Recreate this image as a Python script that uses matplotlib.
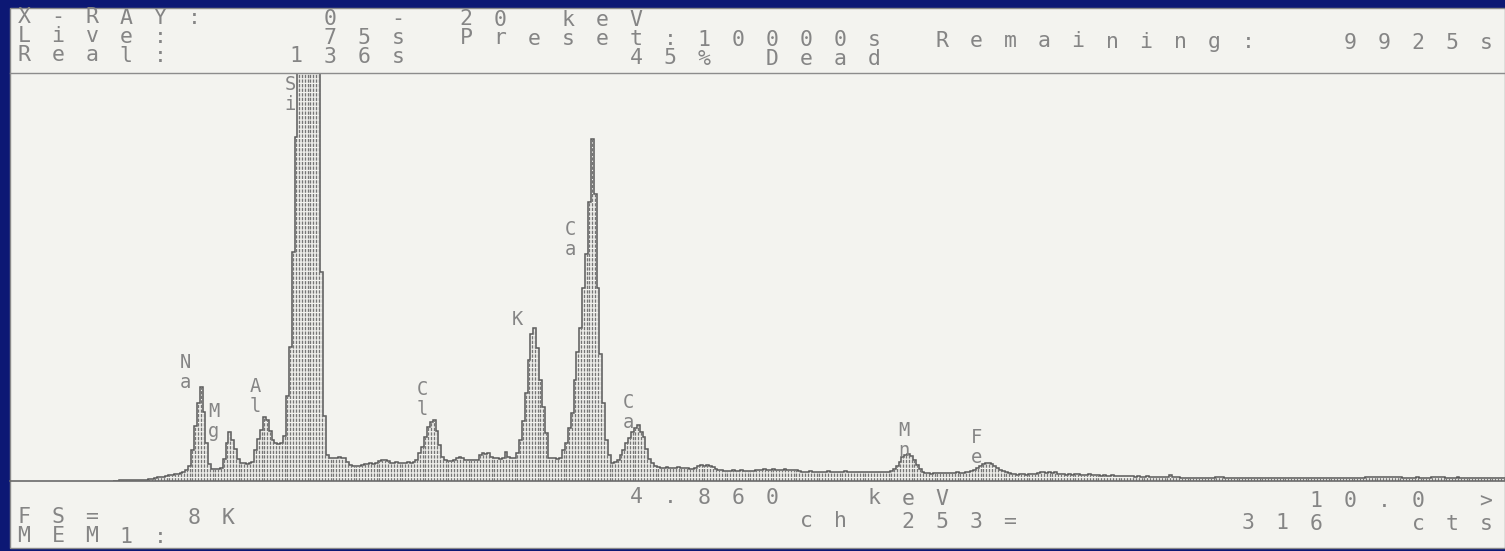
import matplotlib.pyplot as plt
import numpy as np
from matplotlib.patches import Rectangle
from matplotlib.lines import Line2D
from matplotlib.transforms import offset_copy

W, H = 1505, 551

# counts per 20 eV channel, first channel at 0.40 keV
e_start = 0.40
e_step = 0.02
counts = [
    0, 0, 20, 20, 20, 20, 20, 20, 20, 20,
    20, 20, 40, 40, 60, 80, 80, 80, 100, 120,
    120, 140, 140, 160, 180, 220, 300, 620, 1100, 1560,
    1880, 1380, 760, 340, 240, 240, 240, 260, 440, 760,
    980, 820, 640, 440, 360, 360, 340, 360, 380, 620,
    840, 1020, 1280, 1220, 1000, 820, 760, 740, 760, 900,
    1700, 2700, 4600, 6900, 9800, 14000, 17500, 19000, 17000, 13500,
    10500, 8400, 4200, 1300, 520, 470, 470, 470, 480, 470,
    460, 380, 320, 300, 300, 300, 320, 340, 340, 360,
    350, 370, 400, 420, 420, 400, 370, 370, 380, 360,
    370, 370, 380, 370, 380, 420, 560, 680, 880, 1080,
    1180, 1220, 1000, 720, 480, 420, 400, 400, 420, 460,
    480, 460, 420, 420, 420, 420, 430, 520, 560, 540,
    560, 480, 460, 460, 450, 460, 580, 480, 460, 460,
    560, 820, 1200, 1760, 2420, 2960, 3080, 2680, 2020, 1480,
    960, 460, 460, 460, 440, 460, 620, 760, 1060, 1360,
    2020, 2600, 3080, 3880, 4560, 5600, 6860, 5760, 3880, 2560,
    1560, 820, 520, 360, 380, 420, 520, 620, 760, 860,
    980, 1060, 1120, 980, 880, 640, 440, 360, 300, 280,
    260, 260, 280, 260, 260, 260, 280, 260, 260, 260,
    240, 240, 260, 300, 320, 300, 320, 300, 280, 240,
    220, 220, 200, 210, 210, 220, 210, 210, 220, 210,
    210, 210, 200, 220, 220, 230, 240, 230, 230, 240,
    230, 230, 230, 240, 230, 230, 220, 230, 200, 190,
    190, 190, 200, 190, 190, 190, 180, 190, 200, 190,
    190, 180, 190, 190, 200, 190, 190, 180, 190, 190,
    180, 190, 190, 180, 180, 190, 180, 180, 190, 180,
    200, 240, 300, 380, 480, 520, 540, 500, 420, 320,
    240, 180, 160, 160, 150, 160, 160, 170, 160, 160,
    170, 160, 170, 180, 170, 170, 180, 190, 200, 220,
    260, 300, 340, 360, 360, 340, 300, 260, 220, 200,
    180, 160, 140, 140, 130, 140, 140, 130, 140, 140,
    150, 170, 180, 180, 170, 180, 170, 180, 150, 140,
    140, 130, 140, 130, 140, 140, 130, 120, 130, 140,
    130, 120, 120, 110, 120, 110, 110, 120, 110, 100,
    110, 100, 110, 100, 100, 90, 100, 90, 90, 100,
    90, 90, 80, 90, 80, 80, 90, 130, 80, 80,
    80, 70, 70, 70, 70, 70, 70, 70, 70, 60,
    60, 60, 70, 90, 90, 90, 70, 60, 60, 60,
    60, 60, 60, 60, 60, 60, 60, 60, 60, 60,
    60, 60, 60, 60, 60, 60, 60, 60, 60, 60,
    60, 60, 60, 60, 60, 60, 60, 60, 60, 60,
    60, 60, 60, 60, 60, 60, 60, 60, 60, 60,
    60, 60, 60, 60, 70, 90, 90, 80, 90, 90,
    90, 80, 90, 90, 90, 80, 90, 90, 70, 70,
    70, 60, 70, 80, 70, 60, 60, 70, 90, 90,
    80, 90, 90, 70, 60, 60, 70, 80, 70, 60,
    60, 70, 60, 60, 70, 60, 60, 60, 70, 60,
    60, 60, 60, 60, 60,
]

full_scale = 8192  # FS= 8K

peak_names = ['Na', 'Mg', 'Al', 'Si', 'Cl', 'K', 'Ca', 'Ca', 'Mn', 'Fe']
peak_kev = [0.86, 1.06, 1.35, 1.59, 2.51, 3.17, 3.54, 3.94, 5.86, 6.36]
peak_cts = [2270, 1285, 1790, 7850, 1730, 3130, 4940, 1470, 905, 765]

header_rows = [
    "X-RAY:   0 - 20 keV",
    "Live:    75s Preset:10000s Remaining:  9925s",
    "Real:   136s      45% Dead",
]
footer_rows = [
    " " * 18 + "4.860  keV" + " " * 10 + "10.0 >",
    "FS=  8K" + " " * 16 + "ch 253=" + " " * 6 + "316  cts",
    "MEM1:",
]

ink = '#858585'
mono = 'DejaVu Sans Mono'

fig = plt.figure(figsize=(W / 100, H / 100), dpi=100, facecolor='#0c1874')

# paper
fig.patches.append(Rectangle((10 / W, 3 / H), 1 - 10 / W, 540 / H, transform=fig.transFigure,
                             facecolor='#f3f3ef', edgecolor='#8a8a8a', linewidth=1.0, zorder=-5))
# rule under the status lines
fig.add_artist(Line2D([10 / W, 1], [1 - 73 / H] * 2, color='#8c8c8c', linewidth=1.0))


def draw_row(text, y_base, size=15.5):
    # one character per screen column, the printout runs slightly downhill
    for col, ch in enumerate(text):
        if ch == ' ':
            continue
        x = 24 + col * 34
        y = y_base + 0.005 * x
        fig.text(x / W, 1 - y / H, ch, fontsize=size, family=mono, color=ink,
                 ha='center', va='baseline')


for k, row in enumerate(header_rows):
    draw_row(row, 23 + 19 * k)
draw_row(footer_rows[0], 500)
draw_row(footer_rows[1], 523)
draw_row(footer_rows[2], 542)

# spectrum window
ax = fig.add_axes([10 / W, (H - 481) / H, 1 - 10 / W, (481 - 73) / H])
ax.set_xlim(-0.319, 10.077)
ax.set_ylim(0, full_scale)
ax.axis('off')
ax.patch.set_alpha(0)

edges = e_start + e_step * np.arange(len(counts) + 1)
centers = edges[:-1] + e_step / 2
ax.vlines(centers, 0, counts, colors='#767676', linewidth=1.0, linestyles=[(0, (2.4, 0.9))])
ax.stairs(counts, edges, baseline=0, color='#5a5a5a', linewidth=1.1)
ax.axhline(0, color='#6a6a6a', linewidth=1.2, clip_on=False)

# element markers, symbol letters stacked
below = offset_copy(ax.transData, fig=fig, x=0, y=-20, units='dots')
for name, e, c in zip(peak_names, peak_kev, peak_cts):
    ax.text(e, c, name[0], fontsize=13.5, family=mono, color=ink, ha='left', va='baseline')
    if len(name) > 1:
        ax.text(e, c, name[1], fontsize=13.5, family=mono, color=ink, ha='left', va='baseline',
                transform=below)

fig.savefig('out.png', dpi=100, facecolor=fig.get_facecolor())
